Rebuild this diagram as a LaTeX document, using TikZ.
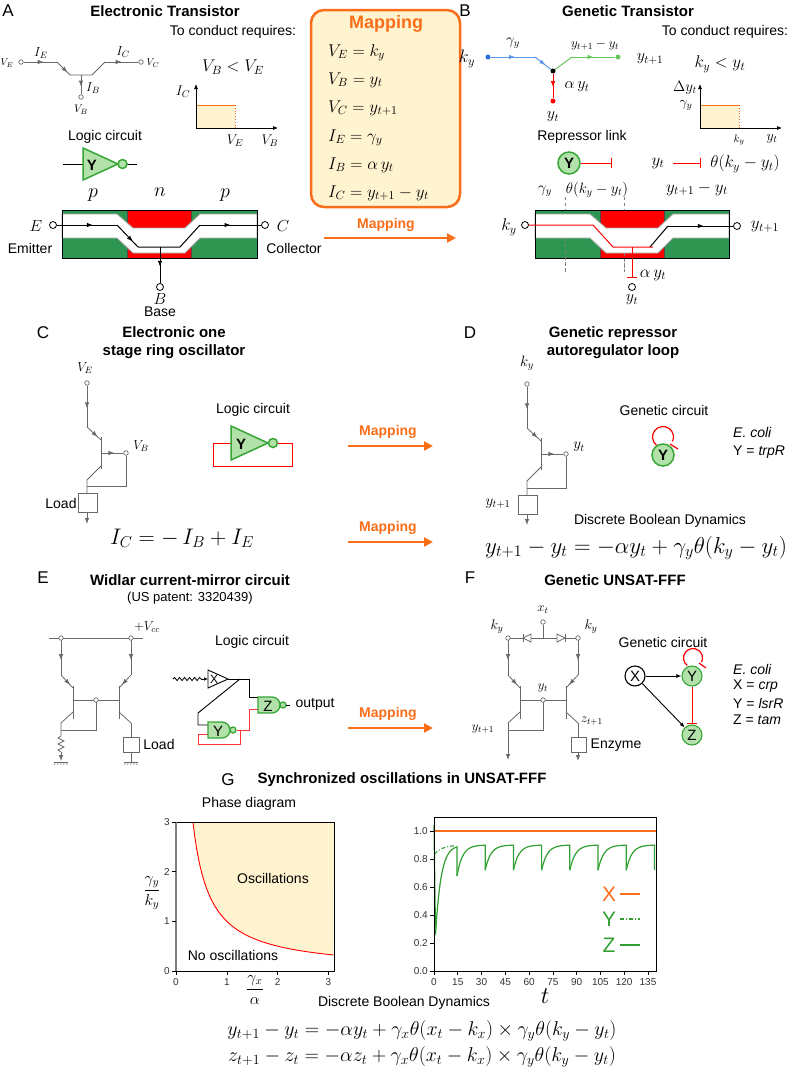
\RequirePackage{fix-cm}
\documentclass[tikz,border=0pt]{standalone}
\usepackage[no-math]{fontspec}
\setmainfont{Liberation Sans}
\usetikzlibrary{arrows.meta,decorations.markings,decorations.pathmorphing,calc}
\newcommand\fsz[1]{\fontsize{#1}{#1}\selectfont}
\definecolor{orng}{RGB}{250,110,25}
\definecolor{yfill}{RGB}{255,243,208}
\definecolor{semg}{RGB}{46,150,80}
\definecolor{semr}{RGB}{255,0,0}
\definecolor{gfill}{RGB}{178,226,170}
\definecolor{gdraw}{RGB}{55,165,55}
\definecolor{blu}{RGB}{40,110,230}
\definecolor{blul}{RGB}{90,150,230}
\definecolor{grnl}{RGB}{100,200,90}
\definecolor{pgreen}{RGB}{50,160,50}
\definecolor{wgray}{RGB}{105,105,105}
\begin{document}
\begin{tikzpicture}[x=1pt,y=-1pt,
  txt/.style={inner sep=0pt,font=\fsz{14}},
  ttl/.style={inner sep=0pt,font=\fsz{15}\bfseries},
  plbl/.style={inner sep=0pt,font=\fsz{17}},
  mth/.style={inner sep=0pt,font=\fsz{#1}},
  wire/.style={draw=wgray,line width=0.8pt},
  marr/.style={postaction={decorate},decoration={markings,mark=at position #1 with {\arrow{Latex[length=6pt,width=4.5pt]}}}},
  ocirc/.style={circle,draw=wgray,fill=white,inner sep=0pt,minimum size=4.5pt,line width=0.7pt},
  bcirc/.style={circle,draw=black,fill=white,inner sep=0pt,minimum size=7pt,line width=0.8pt},
  dotn/.style={circle,fill=#1,inner sep=0pt,minimum size=5pt},
  gnode/.style={circle,draw=gdraw,fill=gfill,line width=1.5pt,inner sep=0pt,minimum size=22pt,font=\fsz{15}\bfseries},
  fnode/.style={circle,draw=#1,line width=1.1pt,inner sep=0pt,minimum size=20pt,font=\fsz{15}},
  gate/.style={draw=gdraw,fill=gfill,line width=1.3pt},
  mapar/.style={draw=orng,line width=2.2pt,-{Triangle[length=9pt,width=9pt]}},
  maplbl/.style={inner sep=0pt,text=orng,font=\fsz{14}\bfseries},
  inh/.style={draw=red,line width=1pt,-{Bar[width=10pt,line width=1pt]}},
  tick/.style={inner sep=0pt,font=\fsz{10},text=black!80},
  endarr/.style={-{Latex[length=6pt,width=4.5pt]}},
]
\useasboundingbox (0,0) rectangle (789,1074);
\fill[white] (0,0) rectangle (789,1074);

%================ PANEL A
\node[plbl] (lA) at (8,11) {A};
\node[ttl] (tA) at (165,11) {Electronic Transistor};
\node[ocirc] (ve) at (21,62) {};
\node[ocirc] (vc) at (141,62) {};
\node[ocirc] (vb) at (81,97) {};
\coordinate (a1) at (57,62); \coordinate (a2) at (70,75); \coordinate (a3) at (92,75);
\coordinate (a4) at (105,62); \coordinate (ab) at (81,75);
\draw[wire,marr=0.6] (ve) -- (a1);
\draw[wire,marr=0.8] (a1) -- (a2);
\draw[wire] (a2) -- (a3) -- (a4);
\draw[wire,marr=0.5] (a4) -- (vc);
\draw[wire,marr=0.6] (ab) -- (vb);
\node[mth=10] at (7,63) {$V_E$};
\node[mth=10] at (153,63) {$V_C$};
\node[mth=13] at (41,53) {$I_E$};
\node[mth=13] at (123,52) {$I_C$};
\node[mth=13] at (93,88) {$I_B$};
\node[mth=11] at (81,110) {$V_B$};

\node[txt] (tcA) at (233,32) {To conduct requires:};
\node[mth=17] at (233,67) {$V_B < V_E$};
\fill[yfill] (196,105) rectangle (235,128);
\draw[orng,line width=1pt] (196,105) -- (235,105);
\draw[orng,dotted,line width=0.8pt] (235,105) -- (235,128);
\draw[-{Latex[length=5pt,width=4pt]},line width=0.7pt] (196,128) -- (196,84);
\draw[-{Latex[length=5pt,width=4pt]},line width=0.7pt] (196,128) -- (278,128);
\node[mth=14] at (183,92) {$I_C$};
\node[mth=14] at (235,141) {$V_E$};
\node[mth=14] at (270,141) {$V_B$};

\node[txt] (lcA) at (105,137) {Logic circuit};
\draw[line width=1pt] (63,164) -- (83,164);
\draw[line width=1pt] (127,164) -- (137,164);
\draw[gate,line width=1.5pt] (83,148) -- (118,164) -- (83,180) -- cycle;
\draw[gate,line width=1.5pt] (122.5,164) circle (4.5);
\node[inner sep=0pt,font=\fsz{15}\bfseries] at (92,165) {Y};

% cross-section A
\begin{scope}
\fill[semg] (62,210) rectangle (257,258);
\fill[semr] (127,210) rectangle (191,258);
\draw[black!70,line width=0.5pt] (127,210) -- (127,258) (191,210) -- (191,258);
\filldraw[fill=white,draw=gray!70,line width=0.8pt] (62,214) -- (117,214) -- (133,228) -- (185,228) -- (200,214) -- (257,214) -- (257,238) -- (200,238) -- (185,253) -- (133,253) -- (117,238) -- (62,238) -- cycle;
\draw[black,line width=0.8pt] (62,210) rectangle (257,258);
\end{scope}
\node[bcirc] (E) at (53,225) {};
\node[bcirc] (C) at (265,225) {};
\node[bcirc] (B) at (160,287) {};
\coordinate (e1) at (117,225); \coordinate (e2) at (138,247); \coordinate (e3) at (180,247);
\coordinate (e4) at (200,225); \coordinate (eb) at (160,247);
\draw[line width=1pt,marr=0.6] (E) -- (e1);
\draw[line width=1pt,marr=0.75] (e1) -- (e2);
\draw[line width=1pt] (e2) -- (e3) -- (e4);
\draw[line width=1pt,marr=0.5] (e4) -- (C);
\draw[line width=1pt,marr=0.55] (eb) -- (B);
\node[mth=20] at (93,195) {$p$};
\node[mth=20] at (160,192) {$n$};
\node[mth=20] at (225,195) {$p$};
\node[mth=16] at (36,226) {$E$};
\node[mth=16] at (283,226) {$C$};
\node[mth=16] at (160,299) {$B$};
\node[txt] at (30,248) {Emitter};
\node[txt] at (294,248) {Collector};
\node[txt] at (160,312) {Base};

%================ Mapping box
\draw[draw=orng,line width=2.5pt,fill=yfill,rounded corners=13pt] (311,10) rectangle (460,207);
\node[inner sep=0pt,text=orng,font=\fsz{18}\bfseries] at (386,24) {Mapping};
\begin{scope}[every node/.style={inner sep=0pt,anchor=base west,font=\fsz{17}}]
\node at (328,56) {$V_E = k_y$};
\node at (328,84) {$V_B = y_t$};
\node at (328,112) {$V_C = y_{t+1}$};
\node at (328,141) {$I_E = \gamma_y$};
\node at (328,169) {$I_B = \alpha\, y_t$};
\node at (328,197) {$I_C = y_{t+1} - y_t$};
\end{scope}
\coordinate (m1s) at (324,238); \coordinate (m1e) at (456,238);
\draw[mapar] (m1s) -- (m1e);
\node[maplbl] at (386,225) {Mapping};

%================ PANEL B
\node[plbl] (lB) at (465,11) {B};
\node[ttl] (tB) at (628,11) {Genetic Transistor};
\node[dotn=blu] (kyd) at (488,57) {};
\node[dotn=black] (jd) at (553,71) {};
\node[dotn=grnl] (y1d) at (618,57) {};
\node[dotn=red] (ytd) at (553,101) {};
\coordinate (b1) at (535,57); \coordinate (b2) at (572,57);
\draw[blul,line width=1pt,marr=0.55] (kyd) -- (b1);
\draw[blul,line width=1pt,marr=0.65] (b1) -- (jd);
\draw[grnl,line width=1pt] (jd) -- (b2);
\draw[grnl,line width=1pt,marr=0.5] (b2) -- (y1d);
\draw[red,line width=1pt,marr=0.55] (jd) -- (ytd);
\node[mth=18] at (467,59) {$k_y$};
\node[mth=15] at (513,43) {$\gamma_y$};
\node[mth=13] at (595,45) {$y_{t+1}-y_t$};
\node[mth=16] at (650,59) {$y_{t+1}$};
\node[mth=16] at (577,87) {$\alpha\, y_t$};
\node[mth=16] at (553,117) {$y_t$};

\node[txt] (tcB) at (725,32) {To conduct requires:};
\node[mth=17] at (720,64) {$k_y < y_t$};
\fill[yfill] (700,105) rectangle (739,128);
\draw[orng,line width=1pt] (700,105) -- (739,105);
\draw[orng,dotted,line width=0.8pt] (739,105) -- (739,128);
\draw[-{Latex[length=5pt,width=4pt]},line width=0.7pt] (700,128) -- (700,84);
\draw[-{Latex[length=5pt,width=4pt]},line width=0.7pt] (700,128) -- (782,128);
\node[mth=15] at (685,88) {$\Delta y_t$};
\node[mth=14] at (686,105) {$\gamma_y$};
\node[mth=11] at (739,140) {$k_y$};
\node[mth=14] at (772,139) {$y_t$};

\node[txt] (rl) at (582,137) {Repressor link};
\node[gnode] (Yb) at (569,163) {Y};
\coordinate (Ybe) at (612,163);
\draw[inh] (Yb) -- (Ybe);
\node[mth=17] (ytb) at (658,163) {$y_t$};
\coordinate (ytbe) at (701,163);
\draw[inh] (673,163) -- (ytbe);
\node[mth=17] at (745,164) {$\theta(k_y - y_t)$};
\node[mth=17] at (697,189) {$y_{t+1} - y_t$};
\node[mth=15] at (545,191) {$\gamma_y$};
\node[mth=15] at (597,190) {$\theta(k_y - y_t)$};
\draw[gray,dashed,line width=0.6pt] (565,197) -- (565,272);
\draw[gray,dashed,line width=0.6pt] (624,197) -- (624,272);

\begin{scope}[xshift=473]
\fill[semg] (62,210) rectangle (256,258);
\fill[semr] (127,210) rectangle (191,258);
\draw[black!70,line width=0.5pt] (127,210) -- (127,258) (191,210) -- (191,258);
\filldraw[fill=white,draw=gray!70,line width=0.8pt] (62,214) -- (117,214) -- (133,228) -- (185,228) -- (200,214) -- (256,214) -- (256,238) -- (200,238) -- (185,253) -- (133,253) -- (117,238) -- (62,238) -- cycle;
\draw[black,line width=0.8pt] (62,210) rectangle (256,258);
\end{scope}
\draw[gray,dashed,line width=0.6pt] (565,238) -- (565,272);
\draw[gray,dashed,line width=0.6pt] (624,253) -- (624,272);
\node[bcirc] (kyc) at (525,225) {};
\node[bcirc] (y1c) at (737,226) {};
\node[bcirc] (ytc) at (632,287) {};
\draw[red,line width=1pt] (kyc) -- (593,225) -- (613,247) -- (653,247);
\draw[line width=1pt] (650,247) -- (668,226);
\draw[line width=1pt,marr=0.55] (668,226) -- (y1c);
\draw[inh] (632,247) -- (632,278);
\node[mth=17] at (509,227) {$k_y$};
\node[mth=17] at (765,227) {$y_{t+1}$};
\node[mth=17] at (653,275) {$\alpha\, y_t$};
\node[mth=16] at (632,300) {$y_t$};

%================ PANEL C
\node[plbl] (lC) at (43,333) {C};
\node[ttl,align=center] (tC) at (174,343) {Electronic one\\[3pt]stage ring oscillator};
\node[ocirc] (cve) at (87,383) {};
\node[ocirc] (cvb) at (126,453) {};
\draw[wire,marr=0.55] (cve) -- (87,427);
\draw[wire,marr=0.75] (87,427) -- (101,440);
\draw[wire] (101,437) -- (101,469);
\draw[wire,marr=0.6] (101,453) -- (cvb);
\draw[wire] (101,466) -- (87,480) -- (87,493);
\draw[wire] (cvb) -- (126,486) -- (87,486);
\draw[wire] (78,493) rectangle (97,512);
\draw[wire,endarr] (87,512) -- (87,524);
\node[mth=13] at (85,368) {$V_E$};
\node[mth=13] at (141,446) {$V_B$};
\node[txt] at (61,503) {Load};

\node[txt] (lcC) at (253,410) {Logic circuit};
\draw[red,line width=1pt] (278,443) -- (292,443) -- (292,466) -- (213,466) -- (213,443) -- (231,443);
\draw[gate,line width=1.5pt] (231,426) -- (268,443) -- (231,460) -- cycle;
\draw[gate,line width=1.5pt] (273,443) circle (4.5);
\node[inner sep=0pt,font=\fsz{15}\bfseries] at (241,444) {Y};

\draw[mapar] (348,446) -- (433,446);
\node[maplbl] at (388,432) {Mapping};
\draw[mapar] (348,542) -- (433,542);
\node[maplbl] at (388,528) {Mapping};
\node[mth=22.5] at (182,538) {$I_C = -\, I_B + I_E$};

%================ PANEL D
\node[plbl] (lD) at (470,333) {D};
\node[ttl,align=center] (tD) at (613,343) {Genetic repressor\\[3pt]autoregulator loop};
\begin{scope}[xshift=440,yshift=-1]
\node[ocirc] (dky) at (87,383) {};
\node[ocirc] (dyt) at (126,453) {};
\draw[wire,marr=0.55] (dky) -- (87,427);
\draw[wire,marr=0.75] (87,427) -- (101,440);
\draw[wire] (101,437) -- (101,469);
\draw[wire,marr=0.6] (101,453) -- (dyt);
\draw[wire] (101,466) -- (87,480) -- (87,494);
\draw[wire] (dyt) -- (126,487) -- (87,487);
\draw[wire] (78,494) rectangle (97,513);
\draw[wire,endarr] (87,513) -- (87,524);
\end{scope}
\node[mth=15] at (527,363) {$k_y$};
\node[mth=15] at (579,447) {$y_t$};
\node[mth=15] at (498,504) {$y_{t+1}$};

\node[txt] (gcD) at (664,410) {Genetic circuit};
\node[gnode] (Yd) at (663,455) {Y};
\draw[red,line width=1.2pt] (663,437) ++(128:10.5) arc[start angle=128,end angle=385,radius=10.5];
\draw[red,line width=1.2pt] (670,444) -- (678,449);
\node[inner sep=0pt,anchor=west,font=\fsz{14}\itshape] at (733,432) {E. coli};
\node[inner sep=0pt,anchor=west,font=\fsz{14}] at (733,452) {Y = \textit{trpR}};
\node[txt] at (660,521) {Discrete Boolean Dynamics};
\node[mth=23] at (636,548) {$y_{t+1} - y_t = -\alpha y_t + \gamma_y \theta(k_y - y_t)$};

%================ PANEL E
\node[plbl] (lE) at (43,578) {E};
\node[ttl] (tE) at (190,580) {Widlar current-mirror circuit};
\node[inner sep=0pt,font=\fsz{13}] at (190,598) {(US patent: 3320439)};
\foreach \dx in {0,447} {
\begin{scope}[xshift=\dx]
 \draw[wire,marr=0.6] (61,638) -- (61,675);
 \draw[wire,marr=0.75] (61,675) -- (73,688);
 \draw[wire] (73,686) -- (73,719);
 \draw[wire] (73,700) -- (119,700);
 \draw[wire] (73,712) -- (61,723);
 \draw[wire,marr=0.6] (131,638) -- (131,675);
 \draw[wire,marr=0.75] (131,675) -- (119,688);
 \draw[wire] (119,686) -- (119,719);
 \draw[wire] (119,712) -- (131,723);
 \draw[wire] (96,700) -- (96,730) -- (61,730);
 \node[ocirc] at (96,700) {};
\end{scope}}
\draw[wire] (49,638) -- (143,638);
\node[ocirc] (er1) at (61,638) {};
\node[ocirc] (er2) at (131,638) {};
\node[mth=13] at (147,627) {$+V_{cc}$};
\draw[wire] (61,723) -- (61,736) -- (58,738) -- (64,741) -- (58,744) -- (64,747) -- (58,750) -- (61,752);
\draw[wire,endarr] (61,752) -- (61,761);
\draw[wire] (131,723) -- (131,737);
\draw[wire] (123,737) rectangle (139,752);
\draw[wire] (131,752) -- (131,762);
\foreach \gx in {61,131} {
  \draw[wire,line width=0.6pt] (\gx-7,762) -- (\gx+7,762);
  \foreach \i in {0,...,4} \draw[wire,line width=0.4pt] (\gx-5+3*\i,762) -- (\gx-7+3*\i,765);
}
\node[txt] at (159,744) {Load};

\node[txt] (lcE) at (252,642) {Logic circuit};
\draw[decorate,decoration={snake,amplitude=1.6pt,segment length=5pt},line width=0.8pt] (173,679) -- (202,679);
\draw[line width=0.6pt,-{Latex[length=4pt,width=3.5pt]}] (201,679) -- (208,679);
\draw[line width=0.9pt,fill=white] (208,670) -- (228,679) -- (208,688) -- cycle;
\node[inner sep=0pt,font=\fsz{12}] at (214,679) {X};
\draw[line width=0.9pt] (228,679) -- (249,679) -- (249,697) -- (258,697);
\draw[line width=0.9pt] (240,679) -- (198,713) -- (198,725) -- (208,725);
\draw[red!80,line width=1pt] (237,730) -- (249,730) -- (249,709) -- (258,709);
\draw[red!80,line width=1pt] (240,730) -- (240,744) -- (198,744) -- (198,734) -- (208,734);
\draw[gate] (258,697) -- (272,697) arc[start angle=-90,end angle=90,radius=8] -- (258,713) -- cycle;
\draw[gate] (283,705) circle (3);
\draw[line width=0.9pt] (286,705) -- (290,705);
\node[inner sep=0pt,font=\fsz{15}] at (268,706) {Z};
\draw[gate] (208,722) -- (222,722) arc[start angle=-90,end angle=90,radius=8] -- (208,738) -- cycle;
\draw[gate] (233,730) circle (3);
\node[inner sep=0pt,font=\fsz{15}] at (218,731) {Y};
\node[txt] at (315,704) {output};
\draw[mapar] (348,728) -- (433,728);
\node[maplbl] at (388,714) {Mapping};

%================ PANEL F
\node[plbl] (lF) at (470,578) {F};
\node[ttl] (tF) at (615,580) {Genetic UNSAT-FFF};
\node[ocirc] (fx) at (543,622) {};
\draw[wire] (fx) -- (543,638);
\draw[wire] (508,638) -- (578,638);
\draw[wire,fill=white] (523,638) -- (531,634) -- (531,642) -- cycle;
\draw[wire] (523,634) -- (523,642);
\draw[wire,fill=white] (565,638) -- (557,634) -- (557,642) -- cycle;
\draw[wire] (565,634) -- (565,642);
\node[ocirc] (fk1) at (508,638) {};
\node[ocirc] (fk2) at (578,638) {};
\draw[wire,endarr] (508,723) -- (508,760);
\draw[wire] (578,723) -- (578,737);
\draw[wire] (571,737) rectangle (586,752);
\draw[wire,endarr] (578,752) -- (578,761);
\node[mth=13] at (543,610) {$x_t$};
\node[mth=14] at (497,627) {$k_y$};
\node[mth=14] at (591,627) {$k_y$};
\node[mth=13] at (543,688) {$y_t$};
\node[mth=13] at (483,729) {$y_{t+1}$};
\node[mth=13] at (592,721) {$z_{t+1}$};
\node[txt] at (616,745) {Enzyme};

\node[txt] (gcF) at (663,642) {Genetic circuit};
\node[fnode=black,fill=white] (nX) at (635,676) {X};
\node[fnode=gdraw,fill=gfill] (nY) at (692,676) {Y};
\node[fnode=gdraw,fill=gfill] (nZ) at (692,735) {Z};
\draw[line width=0.9pt,-{Latex[length=5pt,width=4pt]}] (nX) -- (nY);
\draw[line width=0.9pt,-{Latex[length=5pt,width=4pt]}] (nX) -- (nZ);
\draw[inh] (nY) -- (nZ);
\draw[red,line width=1.2pt] (693,658) ++(128:9.5) arc[start angle=128,end angle=385,radius=9.5];
\draw[red,line width=1.2pt] (699,663) -- (706,668);
\begin{scope}[every node/.style={inner sep=0pt,anchor=west,font=\fsz{14}}]
\node at (733,669) {\textit{E. coli}};
\node at (733,686) {X = \textit{crp}};
\node at (733,703) {Y = \textit{lsrR}};
\node at (733,720) {Z = \textit{tam}};
\end{scope}

%================ PANEL G
\node[plbl] (lG) at (228,780) {G};
\node[ttl] (tG) at (402,780) {Synchronized oscillations in UNSAT-FFF};
\node[txt] at (249,804) {Phase diagram};
% phase diagram
\fill[yfill] plot[domain=0.3356:3.1,samples=80] ({176+50.8*\x},{971-49.7/\x}) -- (334,822) -- cycle;
\draw[red,line width=0.9pt] plot[domain=0.3356:3.1,samples=80] ({176+50.8*\x},{971-49.7/\x});
\draw[black,line width=0.7pt] (176,822) rectangle (334,971);
\draw[gray,line width=1.2pt] (176,822) -- (176,971);
\foreach \v in {0,1,2,3} {
  \draw[line width=0.6pt] (176,{971-49.7*\v}) -- (172,{971-49.7*\v});
  \node[tick,anchor=east] at (170,{971-49.7*\v}) {\v};
  \draw[line width=0.6pt] ({176+50.8*\v},971) -- ({176+50.8*\v},975);
  \node[tick] at ({176+50.8*\v},982) {\v};
}
\node[txt] at (273,878) {Oscillations};
\node[txt] at (233,955) {No oscillations};
\node[inner sep=0pt,font=\fsz{16}] at (152,893) {$\displaystyle\frac{\gamma_y}{k_y}$};
\node[inner sep=0pt,font=\fsz{16}] at (255,990) {$\displaystyle\frac{\gamma_x}{\alpha}$};

% time plot
\draw[orng,line width=1.2pt] (434,831) -- (656,831);
\draw[pgreen,line width=1.1pt,dash pattern=on 4pt off 2pt on 1pt off 2pt] plot[domain=0.3:14,samples=20] ({434+1.585*\x},{971-140*(0.9-0.07*exp(-\x/5))});
\draw[pgreen,line width=1.2pt] (434,825) -- (435.5,933) -- plot[domain=1:14.5,samples=30] ({434+1.585*\x},{971-140*(0.9-0.63*exp(-(\x-1)/3.5))}) -- ({434+1.585*14.5},{971-140*0.68});
\foreach \k in {0,...,6} {
  \pgfmathsetmacro\ta{14.5+17.8*\k}
  \pgfmathsetmacro\tb{\ta+17.8}
  \pgfmathsetmacro\vz{ifthenelse(\k==0,0.68,0.72)}
  \draw[pgreen,line width=1.2pt] plot[domain=\ta:\tb,samples=25] ({434+1.585*\x},{971-140*(0.9-(0.9-\vz)*exp(-(\x-\ta)/3.5))}) -- ({434+1.585*\tb},{971-140*0.72});
}
\draw[black,line width=0.7pt] (434,817) rectangle (656,971);
\foreach \v/\l in {0/0.0,0.2/0.2,0.4/0.4,0.6/0.6,0.8/0.8,1/1.0} {
  \draw[line width=0.6pt] (434,{971-140*\v}) -- (430,{971-140*\v});
  \node[tick,anchor=east] at (428,{971-140*\v}) {\l};
}
\foreach \t in {0,15,...,135} {
  \draw[line width=0.6pt] ({434+1.585*\t},971) -- ({434+1.585*\t},975);
  \node[tick] at ({434+1.585*\t},982) {\t};
}
\node[inner sep=0pt,font=\fsz{24}] at (545,996) {$t$};
\node[inner sep=0pt,text=orng,font=\fsz{21}] at (609,894) {X};
\draw[orng,line width=1.2pt] (620,894) -- (640,894);
\node[inner sep=0pt,text=pgreen,font=\fsz{21}] at (609,919) {Y};
\draw[pgreen,line width=1.2pt,dash pattern=on 4pt off 2pt on 1pt off 2pt] (620,919) -- (640,919);
\node[inner sep=0pt,text=pgreen,font=\fsz{21}] at (609,945) {Z};
\draw[pgreen,line width=1.2pt] (620,945) -- (640,945);

\node[txt] at (404,1003) {Discrete Boolean Dynamics};
\node[mth=20] at (422,1031) {$y_{t+1} - y_t = -\alpha y_t + \gamma_x\theta(x_t - k_x)\times \gamma_y\theta(k_y - y_t)$};
\node[mth=20] at (422,1057) {$z_{t+1} - z_t = -\alpha z_t + \gamma_x\theta(x_t - k_x)\times \gamma_y\theta(k_y - y_t)$};
\end{tikzpicture}
\end{document}
